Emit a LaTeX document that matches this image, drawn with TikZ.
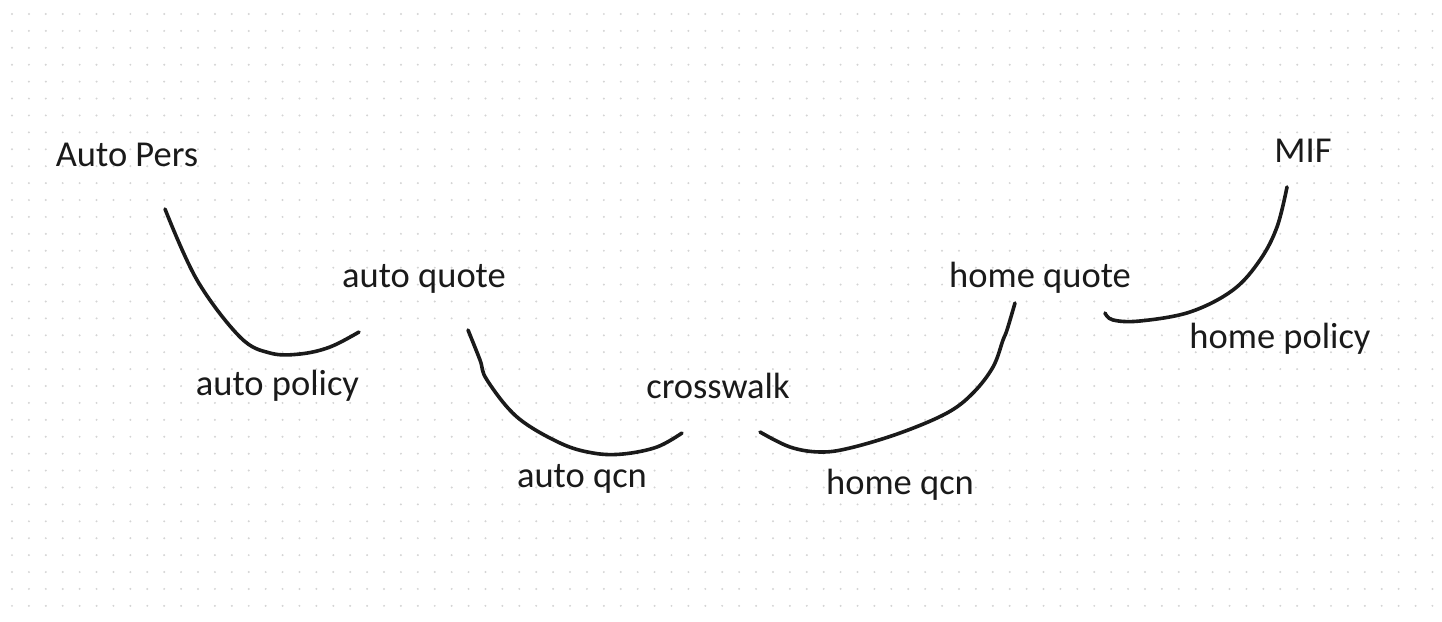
\documentclass[tikz,border=0pt]{standalone}
\usepackage{fontspec}
\setmainfont{Carlito}
\definecolor{ink}{HTML}{1A1A1A}
\definecolor{dotc}{HTML}{D4D4D4}
\begin{document}
\begin{tikzpicture}[x=1pt,y=-1pt,
  lbl/.style={anchor=base,inner sep=0pt,text=ink,font=\fontsize{36.5}{40}\selectfont},
  stroke/.style={draw=ink,line width=3.6pt,line cap=round,line join=round}]
\useasboundingbox[fill=white] (0,0) rectangle (1442,621);
\foreach \i in {0,...,84}{
  \foreach \j in {0,...,35}{
    \fill[dotc] (12+16.91*\i,14+16.91*\j) circle (1.1);
  }
}
\node[lbl] (autopers) at (127,166) {Auto Pers};
\node[lbl] (autoquote) at (424,287) {auto quote};
\node[lbl] (autopolicy) at (277.5,395) {auto policy};
\node[lbl] (crosswalk) at (718,398) {crosswalk};
\node[lbl] (autoqcn) at (582,487) {auto qcn};
\node[lbl] (homeqcn) at (900,494) {home qcn};
\node[lbl] (homequote) at (1040,287) {home quote};
\node[lbl] (mif) at (1303,162) {MIF};
\node[lbl] (homepolicy) at (1280,348) {home policy};
\draw[stroke] plot[smooth,tension=0.6] coordinates {(165,209) (197,280) (240,337) (270,353) (300,354) (330,347) (359,332)};
\draw[stroke] plot[smooth,tension=0.6] coordinates {(468,330) (480,360) (487,380) (517,417) (560,443) (593,453) (623,454) (657,447) (682,433)};
\draw[stroke] plot[smooth,tension=0.6] coordinates {(760,432) (790,447) (820,452) (850,448) (900,433) (947,413) (973,393) (993,367) (1003,340) (1007,330) (1015,303)};
\draw[stroke] plot[smooth,tension=0.6] coordinates {(1105,313) (1113,320) (1140,321) (1190,312) (1233,290) (1260,260) (1277,227) (1287,187)};
\end{tikzpicture}
\end{document}
